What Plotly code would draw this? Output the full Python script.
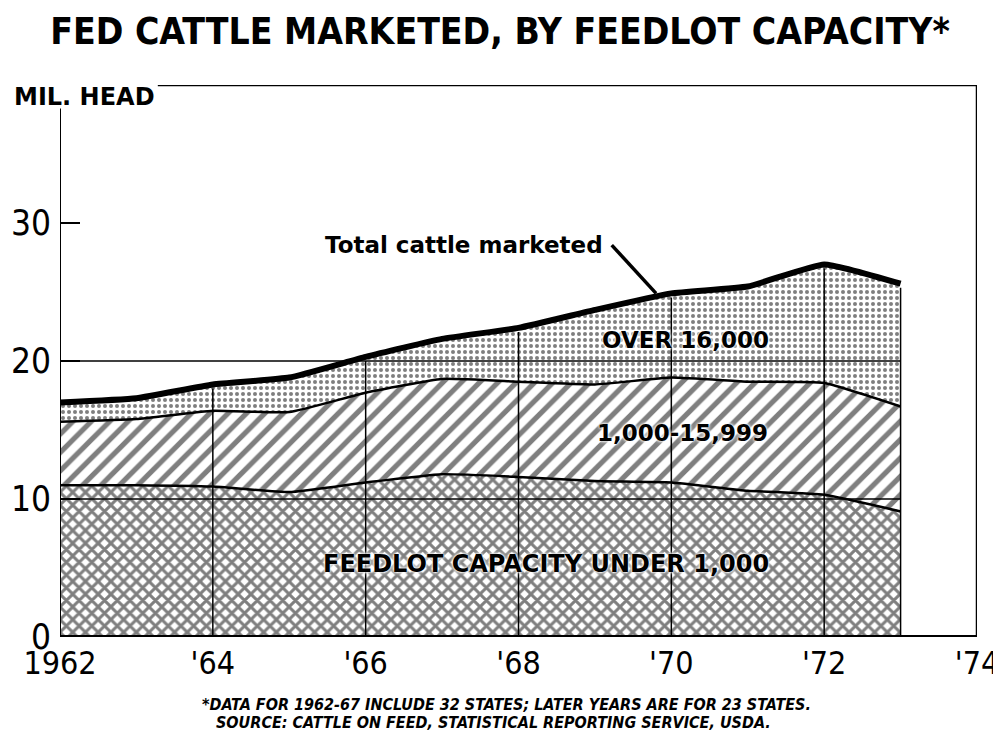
import plotly.graph_objects as go
import numpy as np

years = list(range(1962, 1974))
under_1000 = [11.0, 11.0, 10.9, 10.5, 11.2, 11.8, 11.6, 11.3, 11.2, 10.6, 10.3, 9.1]
mid_1000_15999 = [4.6, 4.8, 5.5, 5.8, 6.5, 6.9, 6.9, 7.0, 7.6, 7.9, 8.1, 7.6]
over_16000 = [1.4, 1.5, 1.9, 2.5, 2.6, 2.9, 3.9, 5.4, 6.1, 6.9, 8.6, 8.9]

x_tick_vals = [1962, 1964, 1966, 1968, 1970, 1972, 1974]
x_tick_text = ["1962", "'64", "'66", "'68", "'70", "'72", "'74"]
y_tick_vals = [0, 10, 20, 30]
y_tick_text = ["0", "10", "20", "30"]
grid_years = [1964, 1966, 1968, 1970, 1972, 1973]
grid_levels = [10, 20]

u = np.array(under_1000)
top2 = u + np.array(mid_1000_15999)
total = top2 + np.array(over_16000)

COND = "DejaVu Sans Condensed"
OFF = 8  # page body margin
W, H = 993, 723
ML, MR = 60 - OFF, 24
MT = 85 - OFF
MB = OFF + H - 637
pw, ph = W - ML - MR, H - MT - MB


def px(xp):
    return (xp - OFF - ML) / pw


def py(yp):
    return (H - MB - (yp - OFF)) / ph


fig = go.Figure()
shape_kw = dict(shape="spline", smoothing=0.4)

fig.add_trace(go.Scatter(
    x=years, y=u, mode="lines", fill="tozeroy",
    line=dict(color="black", width=2.5, **shape_kw),
    fillpattern=dict(shape="x", fgcolor="black", bgcolor="white", size=9, solidity=0.55),
    hoverinfo="skip", showlegend=False))
fig.add_trace(go.Scatter(
    x=years, y=top2, mode="lines", fill="tonexty",
    line=dict(color="black", width=2.5, **shape_kw),
    fillpattern=dict(shape="/", fgcolor="black", bgcolor="white", size=13, solidity=0.4),
    hoverinfo="skip", showlegend=False))
fig.add_trace(go.Scatter(
    x=years, y=total, mode="lines", fill="tonexty",
    line=dict(color="black", width=6, **shape_kw),
    fillpattern=dict(shape=".", fgcolor="black", bgcolor="white", size=6, solidity=0.35),
    hoverinfo="skip", showlegend=False))

for lv in grid_levels:
    fig.add_trace(go.Scatter(x=[years[0], years[-1]], y=[lv, lv], mode="lines",
                             line=dict(color="black", width=1.5),
                             hoverinfo="skip", showlegend=False))
for gy in grid_years:
    tv = float(total[years.index(gy)])
    fig.add_trace(go.Scatter(x=[gy, gy], y=[0, tv - 0.3], mode="lines",
                             line=dict(color="black", width=1.5),
                             hoverinfo="skip", showlegend=False))

# frame lines
fig.add_shape(type="line", xref="x", yref="y", x0=1962, x1=1962, y0=0, y1=38.3,
              line=dict(color="black", width=2))
fig.add_shape(type="line", xref="x", yref="y", x0=1962, x1=1974, y0=0, y1=0,
              line=dict(color="black", width=4))
fig.add_shape(type="line", xref="x", yref="y", x0=1963.28, x1=1974, y0=40, y1=40,
              line=dict(color="black", width=2.5))
fig.add_shape(type="line", xref="x", yref="y", x0=1974, x1=1974, y0=0, y1=40,
              line=dict(color="black", width=2.5))
# leader line
fig.add_shape(type="line", xref="x", yref="y", x0=1969.22, x1=1969.8, y0=28.4, y1=24.9,
              line=dict(color="black", width=3.5))

halo = "0 0 2px white, 0 0 3px white, 0 0 4px white"
label_font = dict(family="DejaVu Sans", size=23, color="black", weight="bold")
fig.add_annotation(x=1969.13, y=28.4, xref="x", yref="y", text="Total cattle marketed",
                   showarrow=False, xanchor="right", font=label_font)
fig.add_annotation(x=1970.18, y=21.5, xref="x", yref="y", text="OVER 16,000",
                   showarrow=False, xanchor="center", font=dict(label_font, shadow=halo))
fig.add_annotation(x=1970.15, y=14.8, xref="x", yref="y", text="1,000-15,999",
                   showarrow=False, xanchor="center", font=dict(label_font, shadow=halo))
fig.add_annotation(x=1968.36, y=5.3, xref="x", yref="y", text="FEEDLOT CAPACITY UNDER 1,000",
                   showarrow=False, xanchor="center", font=dict(label_font, size=24, shadow=halo))

fig.add_annotation(x=px(84), y=py(97), xref="paper", yref="paper", xanchor="center",
                   yanchor="middle", text="MIL. HEAD", showarrow=False,
                   font=dict(family="DejaVu Sans", size=24, color="black", weight="bold"))
foot_font = dict(family=COND, size=16, color="black", weight="bold", style="italic")
fig.add_annotation(x=px(200), y=py(704), xref="paper", yref="paper", yanchor="middle",
                   xanchor="left", showarrow=False, font=foot_font,
                   text="*DATA FOR 1962-67 INCLUDE 32 STATES; LATER YEARS ARE FOR 23 STATES.")
fig.add_annotation(x=px(214), y=py(722), xref="paper", yref="paper", yanchor="middle",
                   xanchor="left", showarrow=False, font=foot_font,
                   text="SOURCE: CATTLE ON FEED, STATISTICAL REPORTING SERVICE, USDA.")

fig.update_layout(
    width=W, height=H,
    margin=dict(l=ML, r=MR, t=MT, b=MB, autoexpand=False),
    paper_bgcolor="white", plot_bgcolor="white",
    title=dict(text="FED CATTLE MARKETED, BY FEEDLOT CAPACITY*",
               x=(500 - OFF) / W, xanchor="center", y=1 - (31 - OFF) / H, yanchor="middle",
               font=dict(family=COND, size=37, color="black", weight="bold")),
    xaxis=dict(range=[1962, 1974], tickvals=x_tick_vals, ticktext=x_tick_text,
               showgrid=False, zeroline=False, showline=False, ticks="", automargin=False,
               ticklabelstandoff=4,
               tickfont=dict(family=COND, size=32, color="black")),
    yaxis=dict(range=[0, 40], tickvals=y_tick_vals, ticktext=y_tick_text,
               showgrid=False, zeroline=False, showline=False, automargin=False,
               ticks="inside", ticklen=20, tickwidth=1.5, tickcolor="black",
               ticklabelstandoff=8,
               tickfont=dict(family=COND, size=35, color="black")),
)

fig.write_html("out.html")
